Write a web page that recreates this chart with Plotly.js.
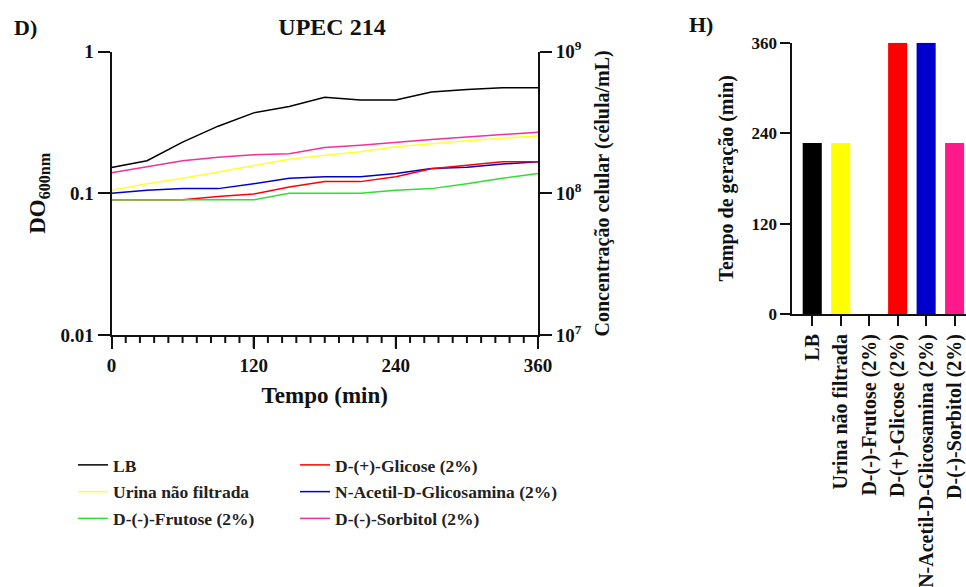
<!DOCTYPE html>
<html>
<head>
<meta charset="utf-8">
<script src="https://cdn.plot.ly/plotly-3.0.1.min.js"></script>
<style>html,body{margin:0;padding:0;background:#fff;}#chart{width:966px;height:587px;}</style>
</head>
<body>
<div id="chart"></div>
<script>
// ---- data ----
const timeMin = [0, 30, 60, 90, 120, 150, 180, 210, 240, 270, 300, 330, 360];
const odLB       = [0.152, 0.170, 0.230, 0.298, 0.370, 0.410, 0.476, 0.456, 0.456, 0.520, 0.540, 0.557, 0.557];
const odUrina    = [0.105, 0.117, 0.128, 0.142, 0.158, 0.174, 0.186, 0.197, 0.213, 0.225, 0.235, 0.245, 0.254];
const odFrutose  = [0.090, 0.090, 0.090, 0.090, 0.090, 0.100, 0.100, 0.100, 0.105, 0.108, 0.117, 0.128, 0.138];
const odGlicose  = [0.090, 0.090, 0.090, 0.095, 0.099, 0.111, 0.121, 0.121, 0.131, 0.149, 0.158, 0.167, 0.167];
const odNAG      = [0.100, 0.105, 0.108, 0.108, 0.117, 0.128, 0.131, 0.131, 0.138, 0.150, 0.153, 0.161, 0.167];
const odSorbitol = [0.140, 0.154, 0.170, 0.180, 0.187, 0.190, 0.211, 0.219, 0.230, 0.240, 0.250, 0.260, 0.270];

const seriesNames = ['LB', 'Urina não filtrada', 'D-(-)-Frutose (2%)', 'D-(+)-Glicose (2%)', 'N-Acetil-D-Glicosamina (2%)', 'D-(-)-Sorbitol (2%)'];
const genTime = [227, 227, 0, 360, 360, 227];

const timeTicks = [0, 120, 240, 360];
const minorStep = 12;
const leftTickVals = [0.01, 0.1, 1];
const leftTickText = ['0.01', '0.1', '1'];
const rightTickVals = [1e7, 1e8, 1e9];
const rightTickText = ['10<sup>7</sup>', '10<sup>8</sup>', '10<sup>9</sup>'];
const barTickVals = [0, 120, 240, 360];

// ---- styles ----
const lineColors = ['#000000', '#ffff33', '#33dd33', '#ff0000', '#0000cc', '#ee3399'];
const barColors  = ['#000000', '#ffff00', '#33dd33', '#ff0000', '#0000cc', '#ff1a8c'];
const FONT = 'Liberation Serif, Times New Roman, serif';
const W = 966, H = 587;
const px = v => v / W;
const py = v => 1 - v / H;

const odSeries = [odLB, odUrina, odFrutose, odGlicose, odNAG, odSorbitol];
const legendOf = ['legend', 'legend', 'legend', 'legend2', 'legend2', 'legend2'];
const drawOrder = [4, 3, 2, 1, 5, 0];

const traces = [];
drawOrder.forEach(i => {
  traces.push({
    type: 'scatter', mode: 'lines',
    x: timeMin, y: odSeries[i],
    name: seriesNames[i],
    line: {color: lineColors[i], width: 1.5},
    xaxis: 'x', yaxis: 'y',
    legend: legendOf[i], legendrank: i, legendgroup: 'g' + i,
    hoverinfo: 'x+y+name'
  });
});
// secondary (cell concentration) axis carrier
traces.push({type: 'scatter', mode: 'lines', x: [], y: [], xaxis: 'x', yaxis: 'y2', showlegend: false, hoverinfo: 'skip'});
// bar chart
traces.push({
  type: 'bar', x: seriesNames, y: genTime,
  marker: {color: barColors, line: {width: 0}},
  width: 0.67, xaxis: 'x2', yaxis: 'y3', showlegend: false
});

// tick marks reinforced as axis-referenced shapes (same places as the axis ticks)
const tickLine = {color: '#111', width: 2};
const shapes = [];
for (let t = timeTicks[0]; t <= timeTicks[timeTicks.length - 1]; t += minorStep) {
  const major = timeTicks.includes(t);
  shapes.push({type: 'line', xref: 'x', yref: 'paper', x0: t, x1: t, y0: py(336), y1: py(major ? 348 : 343), line: tickLine, layer: 'above'});
}
leftTickVals.forEach(v => shapes.push({type: 'line', xref: 'paper', yref: 'y', x0: px(99.5), x1: px(111), y0: Math.log10(v), y1: Math.log10(v), line: tickLine, layer: 'above'}));
rightTickVals.forEach(v => shapes.push({type: 'line', xref: 'paper', yref: 'y2', x0: px(538.5), x1: px(550.5), y0: Math.log10(v), y1: Math.log10(v), line: tickLine, layer: 'above'}));

const axisFont = {family: FONT, size: 19, color: '#111', weight: 'bold'};
const layout = {
  width: W, height: H,
  margin: {l: 0, r: 0, t: 0, b: 0},
  paper_bgcolor: '#fff', plot_bgcolor: 'rgba(0,0,0,0)',
  font: {family: FONT, color: '#111'},
  showlegend: true,
  title: {text: 'UPEC 214', x: px(332), xanchor: 'center', y: py(27), yanchor: 'middle',
          font: {family: FONT, size: 24, color: '#111', weight: 'bold'}},
  xaxis: {
    domain: [px(111.5), px(538)], anchor: 'y', range: [0, 360],
    tickmode: 'array', tickvals: timeTicks, ticks: 'outside', ticklen: 12, tickwidth: 2, tickcolor: '#111',
    showline: true, linewidth: 2, linecolor: '#111', showgrid: false, zeroline: false,
    tickfont: axisFont,
    title: {text: 'Tempo (min)', font: {family: FONT, size: 23, color: '#111', weight: 'bold'}, standoff: 12}
  },
  yaxis: {
    domain: [py(335), py(51.7)], anchor: 'x', type: 'log', range: [-2, 0],
    tickmode: 'array', tickvals: leftTickVals, ticktext: leftTickText,
    ticks: 'outside', ticklen: 12, tickwidth: 2, tickcolor: '#111',
    showline: true, linewidth: 2, linecolor: '#111', showgrid: false, zeroline: false,
    tickfont: axisFont,
    title: {text: 'DO<sub>600nm</sub>', font: {family: FONT, size: 23, color: '#111', weight: 'bold'}, standoff: 8}
  },
  yaxis2: {
    overlaying: 'y', side: 'right', anchor: 'x', type: 'log', range: [7, 9],
    tickmode: 'array', tickvals: rightTickVals, ticktext: rightTickText,
    ticks: 'outside', ticklen: 12, tickwidth: 2, tickcolor: '#111',
    showline: true, linewidth: 2, linecolor: '#111', showgrid: false, zeroline: false,
    tickfont: axisFont,
    title: {text: 'Concentração celular (célula/mL)', font: {family: FONT, size: 20, color: '#111', weight: 'bold'}, standoff: 14}
  },
  xaxis2: {
    domain: [px(792.3), 1], anchor: 'y3', range: [-0.70, 5.40],
    ticks: 'outside', ticklen: 10, tickwidth: 2, tickcolor: '#111', tickangle: -90,
    showline: true, linewidth: 2, linecolor: '#111', showgrid: false, zeroline: false,
    tickfont: {family: FONT, size: 20, color: '#111', weight: 'bold'}
  },
  yaxis3: {
    domain: [py(314), py(42.7)], anchor: 'x2', range: [0, 360],
    tickmode: 'array', tickvals: barTickVals, ticks: 'outside', ticklen: 10, tickwidth: 2, tickcolor: '#111',
    showline: true, linewidth: 2, linecolor: '#111', showgrid: false, zeroline: false,
    tickfont: {family: FONT, size: 17, color: '#111', weight: 'bold'},
    title: {text: 'Tempo de geração (min)', font: {family: FONT, size: 20, color: '#111', weight: 'bold'}, standoff: 12}
  },
  legend: {
    x: px(73), xanchor: 'left', y: py(447), yanchor: 'top', orientation: 'v',
    bgcolor: 'rgba(0,0,0,0)', borderwidth: 0, tracegroupgap: 1,
    font: {family: FONT, size: 17.5, color: '#222', weight: 'bold'}
  },
  legend2: {
    x: px(295), xanchor: 'left', y: py(447), yanchor: 'top', orientation: 'v',
    bgcolor: 'rgba(0,0,0,0)', borderwidth: 0, tracegroupgap: 1,
    font: {family: FONT, size: 17.5, color: '#222', weight: 'bold'}
  },
  shapes: shapes,
  annotations: [
    {text: 'D)', xref: 'paper', yref: 'paper', x: px(25), y: py(27), xanchor: 'center', yanchor: 'middle',
     showarrow: false, font: {family: FONT, size: 22, color: '#111', weight: 'bold'}},
    {text: 'H)', xref: 'paper', yref: 'paper', x: px(701), y: py(24), xanchor: 'center', yanchor: 'middle',
     showarrow: false, font: {family: FONT, size: 22, color: '#111', weight: 'bold'}}
  ]
};

Plotly.newPlot('chart', traces, layout, {displayModeBar: false});
</script>
</body>
</html>
